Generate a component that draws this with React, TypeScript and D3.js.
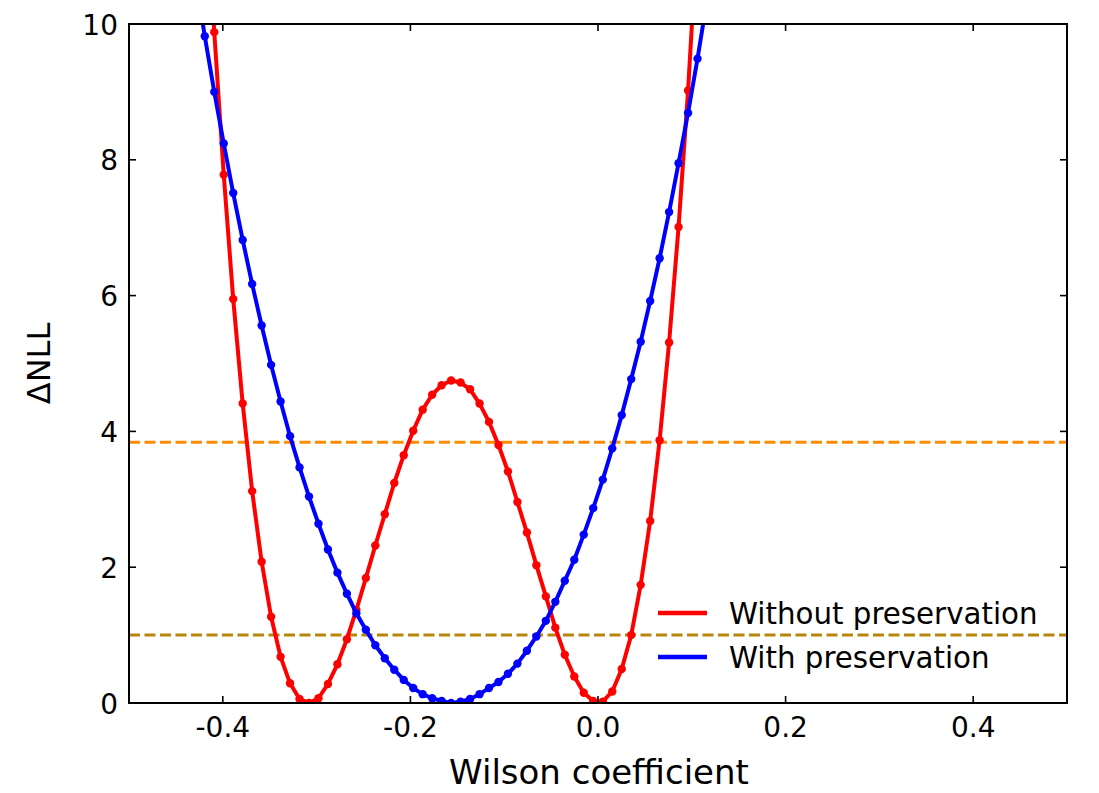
import React from "react";
import * as d3 from "d3";

// x grid (Wilson coefficient)
const xRed = [-0.4192, -0.4091, -0.399, -0.3889, -0.3788, -0.3687, -0.3586, -0.3485, -0.3384, -0.3283, -0.3182, -0.3081, -0.298, -0.2879, -0.2778, -0.2677, -0.2576, -0.2475, -0.2374, -0.2273, -0.2172, -0.2071, -0.197, -0.1869, -0.1768, -0.1667, -0.1566, -0.1465, -0.1364, -0.1263, -0.1162, -0.1061, -0.096, -0.0859, -0.0758, -0.0657, -0.0556, -0.0455, -0.0354, -0.0253, -0.0152, -0.0051, 0.0051, 0.0152, 0.0253, 0.0354, 0.0455, 0.0556, 0.0657, 0.0758, 0.0859, 0.096, 0.1061];
const yRed = [12.3, 9.88, 7.78, 5.95, 4.41, 3.12, 2.08, 1.27, 0.68, 0.29, 0.06, 0.0, 0.07, 0.28, 0.57, 0.94, 1.37, 1.84, 2.32, 2.78, 3.24, 3.65, 4.01, 4.32, 4.54, 4.68, 4.75, 4.72, 4.62, 4.41, 4.14, 3.8, 3.41, 2.96, 2.51, 2.03, 1.57, 1.11, 0.71, 0.39, 0.15, 0.03, 0.02, 0.17, 0.5, 1.0, 1.74, 2.68, 3.87, 5.31, 7.01, 9.02, 11.4];

const xBlue = [-0.4293, -0.4192, -0.4091, -0.399, -0.3889, -0.3788, -0.3687, -0.3586, -0.3485, -0.3384, -0.3283, -0.3182, -0.3081, -0.298, -0.2879, -0.2778, -0.2677, -0.2576, -0.2475, -0.2374, -0.2273, -0.2172, -0.2071, -0.197, -0.1869, -0.1768, -0.1667, -0.1566, -0.1465, -0.1364, -0.1263, -0.1162, -0.1061, -0.096, -0.0859, -0.0758, -0.0657, -0.0556, -0.0455, -0.0354, -0.0253, -0.0152, -0.0051, 0.0051, 0.0152, 0.0253, 0.0354, 0.0455, 0.0556, 0.0657, 0.0758, 0.0859, 0.096, 0.1061, 0.1162];
const yBlue = [10.7, 9.82, 9.0, 8.24, 7.51, 6.82, 6.17, 5.56, 4.98, 4.44, 3.93, 3.47, 3.04, 2.64, 2.26, 1.92, 1.61, 1.32, 1.08, 0.85, 0.66, 0.49, 0.34, 0.22, 0.13, 0.07, 0.03, 0.0, 0.02, 0.06, 0.13, 0.22, 0.31, 0.43, 0.58, 0.77, 0.98, 1.21, 1.49, 1.8, 2.11, 2.48, 2.87, 3.29, 3.75, 4.24, 4.77, 5.32, 5.92, 6.55, 7.23, 7.95, 8.69, 9.49, 10.35];

const xTicks = [-0.4, -0.2, 0.0, 0.2, 0.4];
const yTicks = [0, 2, 4, 6, 8, 10];
const hLines = [
  { value: 3.84, color: "#ff8c00" },
  { value: 1.0, color: "#b8860b" },
];
const seriesNames = ["Without preservation", "With preservation"];
const seriesColors = ["#ff0000", "#0000ff"];

const W = 1099;
const H = 793;
const M = { left: 129, right: 1067, top: 24, bottom: 703 };
const FONT = "DejaVu Sans, sans-serif";

export default function App() {
  const x = d3.scaleLinear().domain([-0.5, 0.5]).range([M.left, M.right]);
  const y = d3.scaleLinear().domain([0, 10]).range([M.bottom, M.top]);
  const series = [
    xRed.map((v, i) => [v, yRed[i]] as [number, number]),
    xBlue.map((v, i) => [v, yBlue[i]] as [number, number]),
  ];
  const line = d3
    .line<[number, number]>()
    .x((d) => x(d[0]))
    .y((d) => y(d[1]));
  const tickLen = 7;

  return (
    <svg
      width={W}
      height={H}
      style={{ position: "absolute", left: 0, top: 0, background: "#fff" }}
      fontFamily={FONT}
    >
      <defs>
        <clipPath id="plot">
          <rect x={M.left} y={M.top} width={M.right - M.left} height={M.bottom - M.top} />
        </clipPath>
      </defs>
      <g clipPath="url(#plot)">
        {hLines.map((h, i) => (
          <line
            key={i}
            x1={M.left}
            x2={M.right}
            y1={y(h.value)}
            y2={y(h.value)}
            stroke={h.color}
            strokeWidth={3}
            strokeDasharray="11,4.5"
          />
        ))}
        {series.map((s, si) => (
          <g key={si}>
            <path d={line(s) || ""} fill="none" stroke={seriesColors[si]} strokeWidth={4} strokeLinejoin="round" />
            {s.map((d, i) => (
              <circle key={i} cx={x(d[0])} cy={y(d[1])} r={4.2} fill={seriesColors[si]} />
            ))}
          </g>
        ))}
      </g>
      {/* ticks */}
      {xTicks.map((t, i) => (
        <g key={"xt" + i}>
          <line x1={x(t)} x2={x(t)} y1={M.bottom} y2={M.bottom - tickLen} stroke="#000" strokeWidth={1.6} />
          <line x1={x(t)} x2={x(t)} y1={M.top} y2={M.top + tickLen} stroke="#000" strokeWidth={1.6} />
          <text x={x(t)} y={737} textAnchor="middle" fontSize={28} fill="#000">
            {d3.format(".1f")(t).replace("−", "-")}
          </text>
        </g>
      ))}
      {yTicks.map((t, i) => (
        <g key={"yt" + i}>
          <line x1={M.left} x2={M.left + tickLen} y1={y(t)} y2={y(t)} stroke="#000" strokeWidth={1.6} />
          <line x1={M.right} x2={M.right - tickLen} y1={y(t)} y2={y(t)} stroke="#000" strokeWidth={1.6} />
          <text x={118} y={y(t) + 10.5} textAnchor="end" fontSize={28} fill="#000">
            {String(t)}
          </text>
        </g>
      ))}
      <rect
        x={M.left}
        y={M.top}
        width={M.right - M.left}
        height={M.bottom - M.top}
        fill="none"
        stroke="#000"
        strokeWidth={2}
      />
      {/* axis labels */}
      <text x={599} y={784} textAnchor="middle" fontSize={34} fill="#000">
        Wilson coefficient
      </text>
      <text
        transform={`translate(50, ${(M.top + M.bottom) / 2}) rotate(-90)`}
        textAnchor="middle"
        fontSize={32}
        fill="#000"
      >
        ΔNLL
      </text>
      {/* legend */}
      {seriesNames.map((n, i) => (
        <g key={"lg" + i}>
          <line x1={658} x2={707} y1={613 + i * 44} y2={613 + i * 44} stroke={seriesColors[i]} strokeWidth={4.5} />
          <text x={729} y={623.5 + i * 44} fontSize={29.3} fill="#000">
            {n}
          </text>
        </g>
      ))}
    </svg>
  );
}
